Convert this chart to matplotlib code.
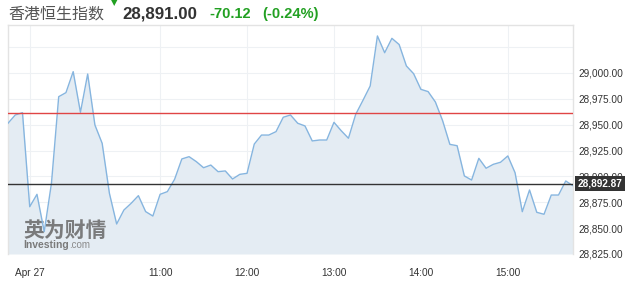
import numpy as np
import pandas as pd
import matplotlib
matplotlib.use("Agg")
import matplotlib.pyplot as plt
import matplotlib.dates as mdates

# Hang Seng index, 5-minute closes on Apr 27
start_time = "2020-04-27 09:15"
prices = [
    28951.4, 28959.4, 28961.6, 28870.7, 28882.7, 28846.6, 28893.4, 28977.1,
    28981.0, 29001.3, 28962.0, 28999.0, 28949.7, 28932.0, 28883.7, 28854.0,
    28867.5, 28874.0, 28881.4, 28866.0, 28861.7, 28882.7, 28885.3, 28897.2,
    28916.9, 28919.1, 28914.3, 28908.4, 28911.0, 28904.6, 28905.3, 28897.5,
    28902.0, 28903.0, 28931.3, 28940.0, 28940.0, 28943.3, 28957.2, 28959.4,
    28951.4, 28948.8, 28934.3, 28935.2, 28935.2, 28952.3, 28944.2, 28936.9,
    28960.0, 28973.5, 28987.4, 29035.8, 29019.6, 29033.5, 29027.5, 29006.8,
    28999.3, 28984.2, 28982.0, 28972.0, 28953.9, 28931.0, 28929.7, 28900.5,
    28896.5, 28917.5, 28907.9, 28911.7, 28913.7, 28919.8, 28903.6, 28865.9,
    28886.9, 28865.3, 28863.4, 28882.0, 28882.0, 28895.6, 28891.0,
]
prev_close = 28961.12
last_price = 28892.87

title_name = "香港恒生指数"
title_price = "28,891.00"
title_change = "-70.12"
title_pct = "(-0.24%)"

x_tick_times = ["09:30", "11:00", "12:00", "13:00", "14:00", "15:00"]
x_tick_labels = ["Apr 27", "11:00", "12:00", "13:00", "14:00", "15:00"]
y_ticks = [28825, 28850, 28875, 28900, 28925, 28950, 28975, 29000, 29025]
y_min, y_max = 28825, 29046.4

times = pd.date_range(start_time, periods=len(prices), freq="5min")

W, H = 643, 290
fig = plt.figure(figsize=(W / 100, H / 100), dpi=100)
ax = fig.add_axes([8 / W, (H - 254) / H, 565 / W, 229 / H])

line_color = "#86b5df"
fill_color = "#e4ecf3"
green = "#22a022"

ax.fill_between(times, prices, y_min, color=fill_color, lw=0, zorder=1)
ax.plot(times, prices, color=line_color, lw=1.0, zorder=3)
ax.axhline(prev_close, color="#e04545", lw=1.0, zorder=4)
ax.axhline(last_price, color="#333333", lw=1.0, zorder=4)

ax.set_xlim(times[0], times[-1])
ax.set_ylim(y_min, y_max)

day = start_time.split()[0]
xt = [pd.Timestamp(f"{day} {t}") for t in x_tick_times]
ax.set_xticks(xt)
ax.set_xticklabels(x_tick_labels)
ax.set_yticks(y_ticks)
ax.set_yticklabels([f"{v:,.2f}" if v < 29025 else "" for v in y_ticks])
ax.yaxis.tick_right()

for lab in ax.get_xticklabels() + ax.get_yticklabels():
    lab.set_fontfamily("Liberation Sans")
    lab.set_color("#333333")
ax.tick_params(axis="x", length=0, labelsize=7.3, pad=10)
ax.tick_params(axis="y", length=0, labelsize=7.2, pad=4)

ax.grid(True, color="#eef1f4", lw=0.8, zorder=0)
ax.set_axisbelow(True)
for side, sp in ax.spines.items():
    sp.set_color("#e3e3e3")
    sp.set_linewidth(1.0)
ax.spines["bottom"].set_visible(False)

# last price tag on the right axis
ax.annotate(f"{last_price:,.2f}", xy=(1.0, last_price),
            xycoords=("axes fraction", "data"),
            xytext=(3, 0), textcoords="offset points",
            ha="left", va="center", color="white", fontsize=7.2,
            fontweight="bold", family="Liberation Sans", zorder=6,
            bbox=dict(boxstyle="square,pad=0.25", fc="#333333", ec="none"),
            annotation_clip=False)

# watermark
ax.text(15 / 565, 24 / 229, "英为财情", transform=ax.transAxes,
        fontsize=15, fontweight="bold", color="#6f6f6f", alpha=0.9,
        family=["Noto Sans CJK SC", "DejaVu Sans"], ha="left", va="center",
        zorder=2)
ax.text(15 / 565, 9 / 229, "Investing", transform=ax.transAxes,
        fontsize=7.5, fontweight="bold", color="#7a7a7a",
        family="Liberation Sans", ha="left", va="center", zorder=2)
ax.text(61 / 565, 9 / 229, ".com", transform=ax.transAxes,
        fontsize=7, color="#8a8a8a",
        family="Liberation Sans", ha="left", va="center", zorder=2)

# header
fig.text(8 / W, 1 - 14 / H, title_name, fontsize=11.5, color="#555555",
         family=["Noto Sans CJK SC", "DejaVu Sans"], ha="left", va="center")
fig.text(114 / W, 1 - 3 / H, "▼", fontsize=6, color=green,
         ha="center", va="center")
fig.text(122 / W, 1 - 14 / H, title_price, fontsize=12.2, fontweight="bold",
         color="#333333", family="Liberation Sans", ha="left", va="center")
fig.text(209 / W, 1 - 14 / H, title_change, fontsize=10.5, fontweight="bold",
         color=green, family="Liberation Sans", ha="left", va="center")
fig.text(262 / W, 1 - 14 / H, title_pct, fontsize=10.5, fontweight="bold",
         color=green, family="Liberation Sans", ha="left", va="center")

fig.savefig("out.png", dpi=100, facecolor="white")
